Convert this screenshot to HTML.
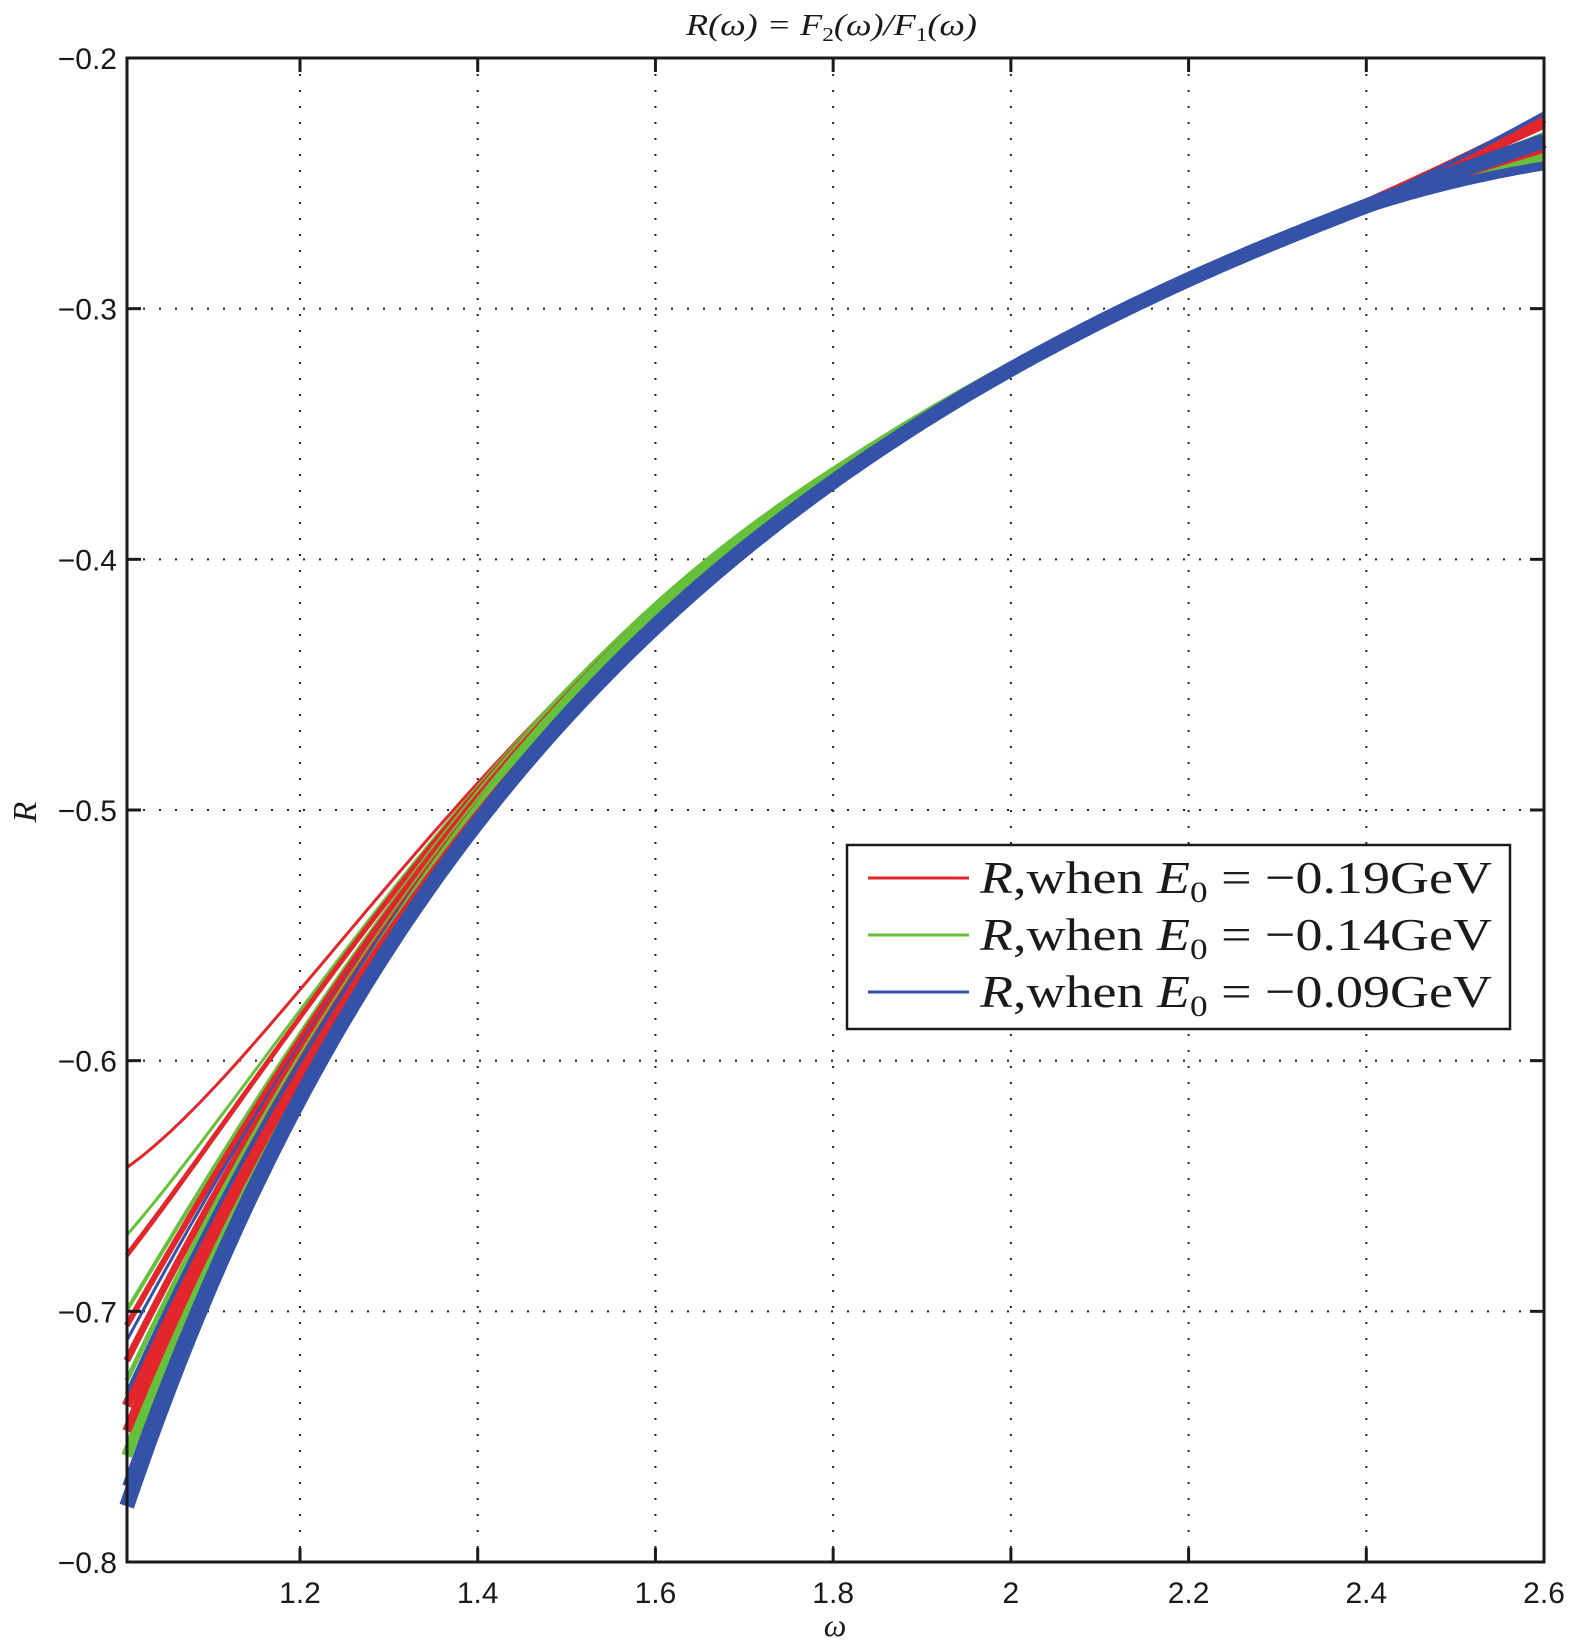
<!DOCTYPE html>
<html><head><meta charset="utf-8">
<style>
html,body{margin:0;padding:0;background:#fff;}
svg{display:block;}
.t{font-family:"Liberation Sans",sans-serif;font-size:30px;fill:#1a1a1a;}
.s{font-family:"Liberation Serif",serif;fill:#1a1a1a;}
</style></head>
<body>
<svg id="c" width="1575" height="1642" viewBox="0 0 1575 1642" xmlns="http://www.w3.org/2000/svg">
<rect width="1575" height="1642" fill="#fff"/>
<g id="grid" stroke="#222" stroke-width="2" stroke-dasharray="2,14"></g>
<g id="curves" fill="none" stroke-linecap="butt" stroke-linejoin="round"></g>
<rect x="127" y="58" width="1417" height="1504" fill="none" stroke="#1a1a1a" stroke-width="3"/>
<g id="ticks" stroke="#1a1a1a" stroke-width="3"></g>
<g id="labels"></g>
<text class="s" x="686" y="35" font-size="31" font-style="italic" textLength="291" lengthAdjust="spacingAndGlyphs">R(ω) = F<tspan font-size="20" dy="6" font-style="normal">2</tspan><tspan dy="-6">(ω)/F</tspan><tspan font-size="20" dy="6" font-style="normal">1</tspan><tspan dy="-6">(ω)</tspan></text>
<text class="s" x="835" y="1636" font-size="32" text-anchor="middle" font-style="italic">ω</text>
<text class="s" x="0" y="0" font-size="34" font-style="italic" transform="translate(36,812) rotate(-90)" text-anchor="middle">R</text>
<rect x="847" y="845" width="663" height="184" fill="#fff" stroke="#1a1a1a" stroke-width="2.5"/>
<line x1="868" y1="878" x2="969" y2="878" stroke="#e2262b" stroke-width="3"/>
<line x1="868" y1="935" x2="969" y2="935" stroke="#66c13a" stroke-width="3"/>
<line x1="868" y1="992" x2="969" y2="992" stroke="#3352a8" stroke-width="3"/>
<g class="s" font-size="46">
<text x="980" y="893" textLength="512" lengthAdjust="spacingAndGlyphs"><tspan font-style="italic">R</tspan>,when  <tspan font-style="italic">E</tspan><tspan font-size="30" dy="9">0</tspan><tspan dy="-9"> = −0.19GeV</tspan></text>
<text x="980" y="950" textLength="512" lengthAdjust="spacingAndGlyphs"><tspan font-style="italic">R</tspan>,when  <tspan font-style="italic">E</tspan><tspan font-size="30" dy="9">0</tspan><tspan dy="-9"> = −0.14GeV</tspan></text>
<text x="980" y="1007" textLength="512" lengthAdjust="spacingAndGlyphs"><tspan font-style="italic">R</tspan>,when  <tspan font-style="italic">E</tspan><tspan font-size="30" dy="9">0</tspan><tspan dy="-9"> = −0.09GeV</tspan></text>
</g>
</svg>
<script>
(function(){
var NS="http://www.w3.org/2000/svg";
function px(w){return 300+(w-1.2)*888.6;}
function py(r){return 1562-(r+0.8)*2506.7;}
function el(p,tag,a,txt){var e=document.createElementNS(NS,tag);for(var k in a)e.setAttribute(k,a[k]);if(txt!==undefined)e.textContent=txt;p.appendChild(e);return e;}
var grid=document.getElementById('grid'),ticks=document.getElementById('ticks'),labels=document.getElementById('labels'),curves=document.getElementById('curves');
var xs=[1.2,1.4,1.6,1.8,2.0,2.2,2.4,2.6],xl=['1.2','1.4','1.6','1.8','2','2.2','2.4','2.6'];
xs.forEach(function(w,i){var x=px(w);
 if(i<xs.length-1){el(grid,'line',{x1:x,y1:58,x2:x,y2:1562});
 el(ticks,'line',{x1:x,y1:1562,x2:x,y2:1548});el(ticks,'line',{x1:x,y1:58,x2:x,y2:72});}
 el(labels,'text',{'class':'t',x:x,y:1603,'text-anchor':'middle'},xl[i]);});
var ys=[-0.8,-0.7,-0.6,-0.5,-0.4,-0.3,-0.2];
ys.forEach(function(r,i){var y=py(r);
 if(i>0&&i<ys.length-1){el(grid,'line',{x1:127,y1:y,x2:1544,y2:y});
 el(ticks,'line',{x1:127,y1:y,x2:141,y2:y});el(ticks,'line',{x1:1544,y1:y,x2:1530,y2:y});}
 el(labels,'text',{'class':'t',x:117,y:y+11,'text-anchor':'end'},'\u2212'+Math.abs(r).toFixed(1));});
function base(w){return 0.0273-0.6207/(w-0.234);}
var R='#e2262b',G='#66c13a',B='#3352a8';
var list=[
[R,0.135,3,0.004,-0.001],
[G,0.108,3,0.006,0.005],
[R,0.100,5,0.005,0.011],
[G,0.078,4,0.007,-0.004],
[R,0.072,6,0.005,0.008],
[B,0.066,3,0.004,0.002],
[R,0.058,7,0.004,-0.001],
[G,0.050,5,0.006,0.0],
[R,0.040,10,0.003,0.011],
[B,0.045,4,0.003,0.013],
[G,0.020,11,0.005,-0.004],
[R,0.030,9,0.0,-0.001],
[B,0.008,9,0.002,-0.008],
[B,0.0,15,0.0,0.002]];
list.forEach(function(cc){var d='';
 for(var w=1.005;w<=2.6001;w+=0.005){
  var r=base(w)+cc[1]*Math.exp(-(w-1.005)/0.17)+cc[3]*Math.exp(-Math.pow((w-1.6)/0.3,2));
  if(w>2.3)r+=cc[4]*Math.pow((w-2.3)/0.3,2);
  d+=(d?'L':'M')+px(w).toFixed(1)+','+py(r).toFixed(1);}
 el(curves,'path',{d:d,stroke:cc[0],'stroke-width':cc[2]});});
})();
</script>
</body></html>
